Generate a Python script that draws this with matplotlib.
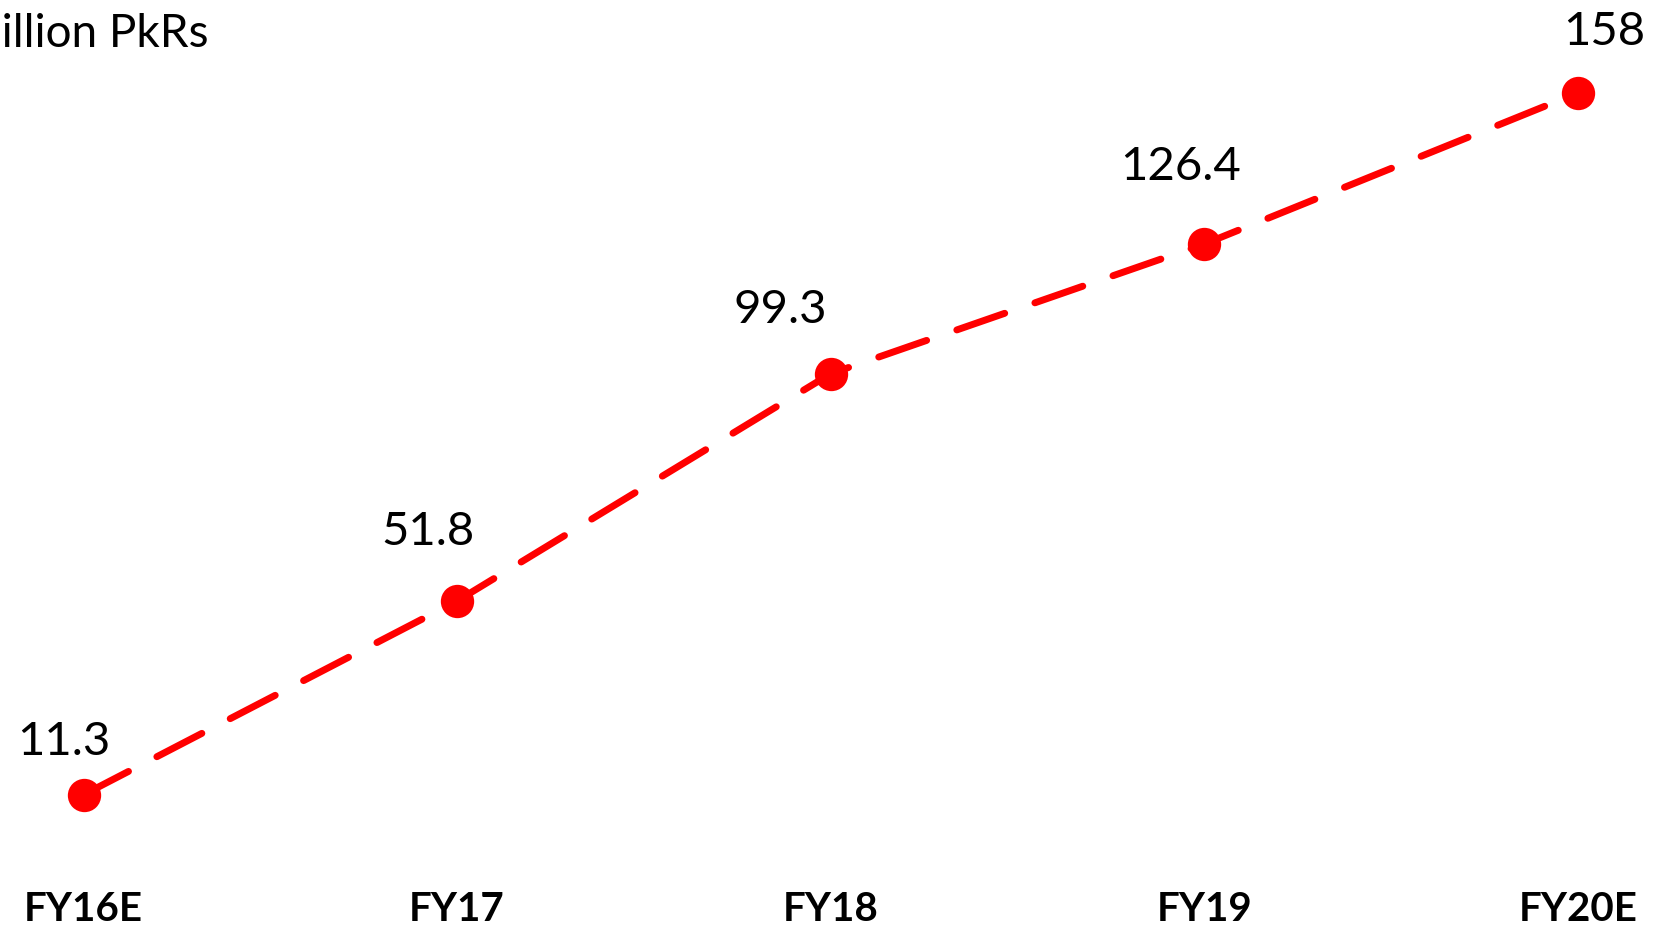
import numpy as np
import matplotlib.pyplot as plt

years = ["FY16E", "FY17", "FY18", "FY19", "FY20E"]
values = [11.3, 51.8, 99.3, 126.4, 158]
value_labels = ["11.3", "51.8", "99.3", "126.4", "158"]
unit_label = "Billion PkRs"

# label offsets from each point, in pixels (dx, dy)
label_offsets = [(-20, 53), (-29, 69), (-50, 64), (-24, 77), (26, 61)]

plt.rcParams["font.family"] = ["Lato", "DejaVu Sans"]

fig = plt.figure(figsize=(16.56, 9.34), dpi=100)
ax = fig.add_axes([0, 0, 1, 1])
x = np.arange(len(years))

ax.plot(x, values, color="#ff0000", linewidth=5, dashes=(7.3, 4.6),
        dash_capstyle="round", marker="o", markersize=24,
        markerfacecolor="#ff0000", markeredgewidth=0)

for xi, v, lab, (dx, dy) in zip(x, values, value_labels, label_offsets):
    ax.annotate(lab, (xi, v), xytext=(dx * 0.72, dy * 0.72),
                textcoords="offset points", ha="center", va="center",
                fontsize=34, color="black")

# category labels along the bottom
for xi, name in zip(x, years):
    ax.text(xi, 0.0257, name, transform=ax.get_xaxis_transform(),
            ha="center", va="center", fontsize=29, fontweight="bold")

# unit label runs off the left edge
fig.text(209 / 1656, 1 - 47 / 934, unit_label, ha="right", va="baseline",
         fontsize=33)

ax.set_xlim(-0.2235, 4.209)
ax.set_ylim(-17.8, 177.4)
ax.axis("off")

fig.savefig("out.png", dpi=100)
